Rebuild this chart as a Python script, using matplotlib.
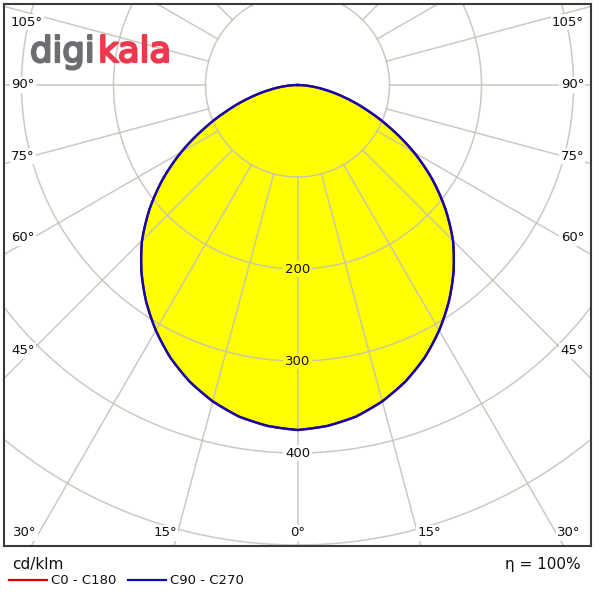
import numpy as np
import matplotlib
matplotlib.use("Agg")
import matplotlib.pyplot as plt
from matplotlib.lines import Line2D
from matplotlib.path import Path
import matplotlib.patheffects as pe

# ---------------- data ----------------
angles_deg = [0, 5, 10, 15, 20, 25, 30, 35, 40, 45, 50, 55, 60, 65, 70, 75, 80, 85, 90]
c0_c180 = [375, 372, 366, 356, 343, 327, 308, 287, 264, 239, 210, 179, 146, 112, 81, 54, 31, 13, 0]
c90_c270 = [375, 372, 366, 356, 343, 327, 308, 287, 264, 239, 210, 179, 146, 112, 81, 54, 31, 13, 0]
ring_values = [100, 200, 300, 400, 500, 600]
ring_labels = ["200", "300", "400"]
spoke_step_deg = 15
left_angle_labels = ["105°", "90°", "75°", "60°", "45°"]
bottom_angle_labels = ["30°", "15°", "0°", "15°", "30°"]
unit_label = "cd/klm"
efficiency_label = "η = 100%"
legend_labels = ["C0 - C180", "C90 - C270"]

# ---------------- layout ----------------
W = H = 600
BOX = (4, 4, 591, 546)          # left, top, right, bottom in px
CX, CY = 297.5, 85.0            # pole position in px
PX_PER_UNIT = 0.92

fig = plt.figure(figsize=(6, 6), dpi=100)
fig.patch.set_facecolor("white")
l, t, r, b = BOX
ax = fig.add_axes([l / W, 1 - b / H, (r - l) / W, (b - t) / H])
ax.set_xlim((l - CX) / PX_PER_UNIT, (r - CX) / PX_PER_UNIT)
ax.set_ylim(-(b - CY) / PX_PER_UNIT, (CY - t) / PX_PER_UNIT)
ax.set_xticks([]); ax.set_yticks([])
for s in ax.spines.values():
    s.set_color("#3a3a3a"); s.set_linewidth(1.5)
    s.set_zorder(10)


def to_xy(theta_deg, rad):
    th = np.radians(theta_deg)
    return rad * np.sin(th), -rad * np.cos(th)


def polar_curve(ang_list, val_list):
    a = np.array(ang_list, float)
    v = np.array(val_list, float)
    fa = np.concatenate([-a[::-1], a[1:]])
    fv = np.concatenate([v[::-1], v[1:]])
    # segments straight in (theta, r) space, as a polar axes draws them
    p = Path(np.column_stack([fa, fv])).interpolated(12)
    return to_xy(p.vertices[:, 0], p.vertices[:, 1])


x0, y0 = polar_curve(angles_deg, c0_c180)
x9, y9 = polar_curve(angles_deg, c90_c270)

ax.fill(x9, y9, color="#ffff00", zorder=1, lw=0)

grid_kw = dict(color="#c4c0b8", lw=1.1, alpha=0.85, zorder=2)
tt = np.linspace(0, 360, 721)
for rv in ring_values:
    gx, gy = to_xy(tt, rv)
    ax.plot(gx, gy, **grid_kw)
for a in np.arange(0, 360, spoke_step_deg):
    sx, sy = to_xy(np.array([a, a]), np.array([ring_values[0], 900]))
    ax.plot(sx, sy, **grid_kw)

ax.plot(x0, y0, color="#e00000", lw=1.7, zorder=4, solid_joinstyle="round")
ax.plot(x9, y9, color="#0a0ab4", lw=1.7, zorder=5, solid_joinstyle="round")

for lab in ring_labels:
    rv = float(lab)
    bg = "#ffff00" if rv < c90_c270[0] else "white"
    ax.text(0, -rv, lab, ha="center", va="center", fontsize=9.5, color="#111111",
            zorder=6, bbox=dict(boxstyle="square,pad=0.15", fc=bg, ec="none"))


def px_to_axes(px, py):
    return (px - l) / (r - l), 1 - (py - t) / (b - t)


lab_kw = dict(fontsize=9.5, color="#111111", va="center", transform=ax.transAxes, zorder=7,
              bbox=dict(boxstyle="square,pad=0.1", fc="white", ec="none"))
side_y = [22, 85, 156, 238, 351]
for lab, py in zip(left_angle_labels, side_y):
    ax.text(*px_to_axes(11, py), lab, ha="left", **lab_kw)
    ax.text(*px_to_axes(584, py), lab, ha="right", **lab_kw)
bottom_x = [25, 165, 297.5, 429, 569]
for lab, px in zip(bottom_angle_labels, bottom_x):
    ax.text(*px_to_axes(px, 533), lab, ha="center", **lab_kw)

fig.text(12 / W, 1 - 565 / H, unit_label, ha="left", va="center", fontsize=11, color="#111111")
fig.text(581 / W, 1 - 565 / H, efficiency_label, ha="right", va="center", fontsize=11, color="#111111")
leg_y = 1 - 580 / H
fig.add_artist(Line2D([9 / W, 47 / W], [leg_y, leg_y], color="#e00000", lw=1.6))
fig.text(51 / W, leg_y, legend_labels[0], ha="left", va="center", fontsize=9.5, color="#111111")
fig.add_artist(Line2D([128 / W, 166 / W], [leg_y, leg_y], color="#0a0ab4", lw=1.6))
fig.text(170 / W, leg_y, legend_labels[1], ha="left", va="center", fontsize=9.5, color="#111111")

fig.text(30 / W, 1 - 62 / H, "digi", ha="left", va="baseline", fontsize=25.5,
         color="#6d6e71", zorder=20,
         path_effects=[pe.withStroke(linewidth=1.6, foreground="#6d6e71")])
fig.text(98 / W, 1 - 62 / H, "kala", ha="left", va="baseline", fontsize=25.5,
         color="#ee384e", zorder=20,
         path_effects=[pe.withStroke(linewidth=1.6, foreground="#ee384e")])

fig.savefig("out.png", dpi=100, facecolor="white")
